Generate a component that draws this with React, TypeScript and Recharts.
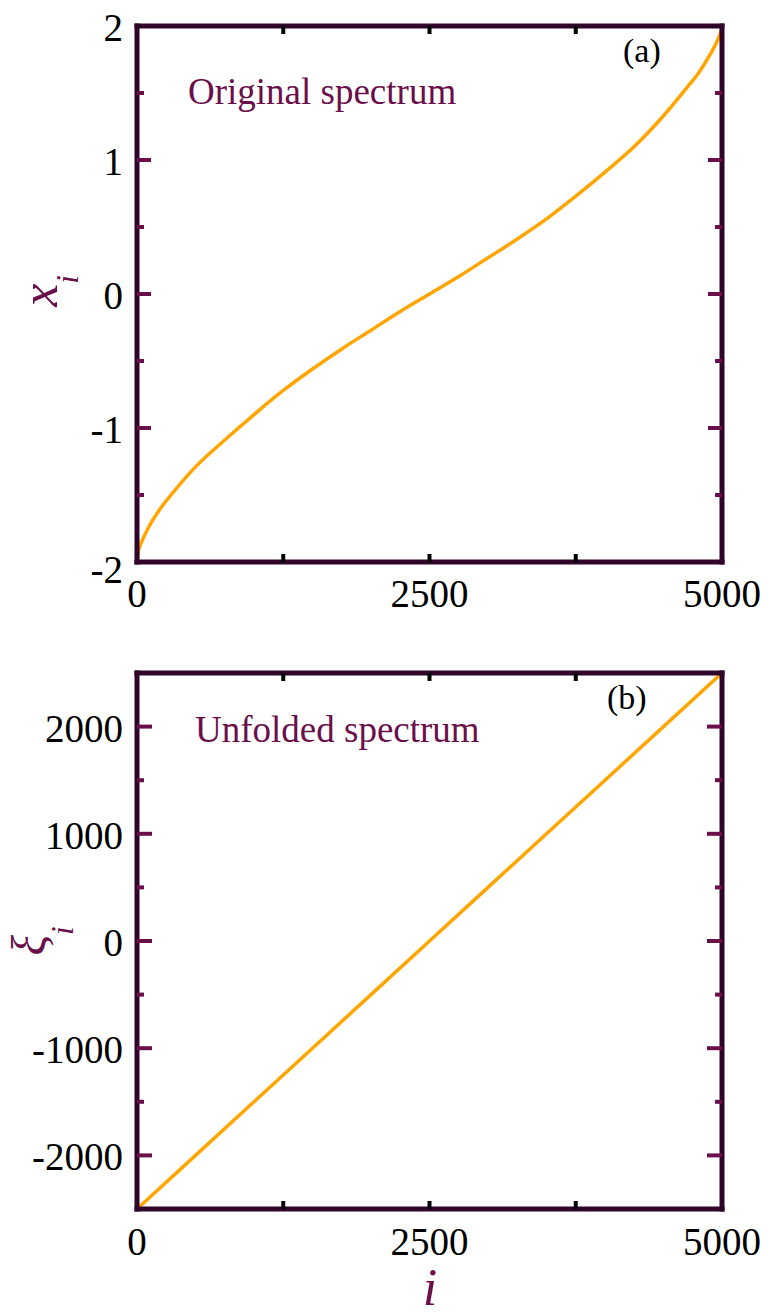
import React from 'react';
import { ComposedChart, Line, Scatter, XAxis, YAxis } from 'recharts';

// ---- data ----
// level index i for the raw eigenvalue curve
const levelIndex = [0, 10, 40, 100, 200, 300, 500, 750, 1000, 1250, 1500, 1750, 2000, 2250, 2500, 2750, 3000, 3250, 3500, 3750, 4000, 4250, 4500, 4700, 4800, 4900, 4960, 4990, 5000];
// original (sorted) spectrum x_i
const rawLevels = [-2.0, -1.93, -1.85, -1.74, -1.6, -1.49, -1.29, -1.09, -0.9, -0.72, -0.56, -0.41, -0.27, -0.13, 0.0, 0.13, 0.27, 0.41, 0.56, 0.73, 0.91, 1.1, 1.33, 1.54, 1.65, 1.79, 1.89, 1.96, 2.0];

// level index i for the unfolded spectrum
const unfoldIndex = [0, 500, 1000, 1500, 2000, 2500, 3000, 3500, 4000, 4500, 5000];
// unfolded spectrum xi_i
const unfoldedLevels = [-2500, -2000, -1500, -1000, -500, 0, 500, 1000, 1500, 2000, 2500];

// axis ticks
const indexDomain: [number, number] = [0, 5000];
const indexTicks = [1250, 2500, 3750];
const indexTickLabels = [0, 2500, 5000];
const rawDomain: [number, number] = [-2, 2];
const rawMajorTicks = [-1, 0, 1];
const rawMinorTicks = [-1.5, -0.5, 0.5, 1.5];
const rawTickLabels = [-2, -1, 0, 1, 2];
const unfoldDomain: [number, number] = [-2500, 2500];
const unfoldMajorTicks = [-2000, -1000, 0, 1000, 2000];
const unfoldMinorTicks = [-1500, -500, 500, 1500];
const unfoldTickLabels = [-2000, -1000, 0, 1000, 2000];

const rawData = levelIndex.map((i, k) => ({ i, v: rawLevels[k] }));
const unfoldData = unfoldIndex.map((i, k) => ({ i, v: unfoldedLevels[k] }));

// ---- styling ----
const SERIF = '"Liberation Serif", "Times New Roman", serif';
const MAROON = '#6b0f4b';
const FRAME = '#30052a';
const CURVE = '#ffa500';
const TICK_FONT = 39;

const frameLine = { stroke: FRAME, strokeWidth: 5, strokeLinecap: 'square' as const };

// tick labels drawn outside the frame
function xLabel(dy: number) {
  return (p: any) => (
    <text x={p.x} y={Number(p.y) + dy} textAnchor="middle" fontFamily={SERIF} fontSize={TICK_FONT} fill="#000">
      {p.payload.value}
    </text>
  );
}

function yLabel(lowest: number, lowDy: number) {
  return (p: any) => {
    const v = p.payload.value as number;
    return (
      <text
        x={Number(p.x) - 14}
        y={Number(p.y) + (v === lowest ? lowDy : 15)}
        textAnchor="end"
        fontFamily={SERIF}
        fontSize={TICK_FONT}
        fill="#000"
      >
        {v}
      </text>
    );
  };
}

// inward tick marks, placed through the chart scales (dx/dy = direction * length in px)
function tickMark(dx: number, dy: number, color: string) {
  return (p: any) => (
    <line x1={p.cx} y1={p.cy} x2={p.cx + dx} y2={p.cy + dy} stroke={color} strokeWidth={4} />
  );
}

const at = (i: number, values: number[]) => values.map((v) => ({ i, v }));
const along = (v: number, indices: number[]) => indices.map((i) => ({ i, v }));

// each axis is a 1px band, so the plot area edges come straight from the margins
const MARGIN_X = { left: 136, right: 46 };

type PanelProps = {
  data: { i: number; v: number }[];
  height: number;
  top: number;
  bottom: number;
  yDomain: [number, number];
  majors: number[];
  minors: number[];
  labels: number[];
  majorLen: number;
  lowDy: number;
  xLabelDy: number;
  curveType: 'monotone' | 'linear';
};

function Panel(props: PanelProps) {
  const { data, height, top, bottom, yDomain, majors, minors, labels, majorLen, lowDy, xLabelDy, curveType } = props;
  const [lo, hi] = yDomain;
  return (
    <ComposedChart width={769} height={height} data={data} margin={{ top, bottom, ...MARGIN_X }}>
      <XAxis
        dataKey="i"
        type="number"
        domain={indexDomain}
        ticks={indexTickLabels}
        interval={0}
        height={1}
        tickSize={0}
        tickMargin={0}
        tickLine={false}
        axisLine={frameLine}
        tick={xLabel(xLabelDy)}
      />
      <XAxis
        xAxisId="top"
        orientation="top"
        dataKey="i"
        type="number"
        domain={indexDomain}
        height={1}
        tick={false}
        tickLine={false}
        axisLine={frameLine}
      />
      <YAxis
        dataKey="v"
        type="number"
        domain={yDomain}
        ticks={labels}
        interval={0}
        width={1}
        tickSize={0}
        tickMargin={0}
        tickLine={false}
        axisLine={frameLine}
        tick={yLabel(lo, lowDy)}
      />
      <YAxis
        yAxisId="right"
        orientation="right"
        dataKey="v"
        type="number"
        domain={yDomain}
        width={1}
        tick={false}
        tickLine={false}
        axisLine={frameLine}
      />

      {/* tick marks on all four sides */}
      <Scatter data={at(indexDomain[0], majors)} shape={tickMark(majorLen, 0, MAROON)} isAnimationActive={false} />
      <Scatter data={at(indexDomain[0], minors)} shape={tickMark(7, 0, MAROON)} isAnimationActive={false} />
      <Scatter data={at(indexDomain[1], majors)} shape={tickMark(-majorLen, 0, MAROON)} isAnimationActive={false} />
      <Scatter data={at(indexDomain[1], minors)} shape={tickMark(-7, 0, MAROON)} isAnimationActive={false} />
      <Scatter data={along(lo, indexTicks)} shape={tickMark(0, -8, '#000')} isAnimationActive={false} />
      <Scatter data={along(hi, indexTicks)} shape={tickMark(0, 8, '#000')} isAnimationActive={false} />

      <Line dataKey="v" type={curveType} stroke={CURVE} strokeWidth={3.5} dot={false} isAnimationActive={false} />
    </ComposedChart>
  );
}

// titles, panel tags and annotations drawn over both panels
function Annotations() {
  return (
    <svg width={769} height={1316} style={{ position: 'absolute', left: 0, top: 0, pointerEvents: 'none' }}>
      <text x={188} y={104} fontFamily={SERIF} fontSize={37} fill={MAROON}>
        Original spectrum
      </text>
      <text x={623} y={62} fontFamily={SERIF} fontSize={34} fill="#000">
        (a)
      </text>
      <text x={195} y={742} fontFamily={SERIF} fontSize={37} fill={MAROON}>
        Unfolded spectrum
      </text>
      <text x={607} y={709} fontFamily={SERIF} fontSize={34} fill="#000">
        (b)
      </text>

      <text transform="translate(57,291) rotate(-90)" textAnchor="middle" fontFamily={SERIF} fontStyle="italic" fill={MAROON}>
        <tspan fontSize={52}>x</tspan>
        <tspan fontSize={31} dy={21}>i</tspan>
      </text>
      <text transform="translate(45,941) rotate(-90)" textAnchor="middle" fontFamily={SERIF} fontStyle="italic" fill={MAROON}>
        <tspan fontSize={48}>ξ</tspan>
        <tspan fontSize={31} dy={28}>i</tspan>
      </text>
      <text x={430} y={1305} textAnchor="middle" fontFamily={SERIF} fontStyle="italic" fontSize={52} fill={MAROON}>
        i
      </text>
    </svg>
  );
}

export default function App() {
  return (
    <div style={{ position: 'absolute', left: 0, top: 0, width: 769, height: 1316, background: '#fff' }}>
      <div style={{ position: 'absolute', left: 0, top: 0 }}>
        <Panel
          data={rawData}
          height={640}
          top={25}
          bottom={77}
          yDomain={rawDomain}
          majors={rawMajorTicks}
          minors={rawMinorTicks}
          labels={rawTickLabels}
          majorLen={14}
          lowDy={21}
          xLabelDy={45}
          curveType="monotone"
        />
      </div>
      <div style={{ position: 'absolute', left: 0, top: 620 }}>
        <Panel
          data={unfoldData}
          height={696}
          top={52}
          bottom={106}
          yDomain={unfoldDomain}
          majors={unfoldMajorTicks}
          minors={unfoldMinorTicks}
          labels={unfoldTickLabels}
          majorLen={15}
          lowDy={15}
          xLabelDy={46}
          curveType="linear"
        />
      </div>
      <Annotations />
    </div>
  );
}
